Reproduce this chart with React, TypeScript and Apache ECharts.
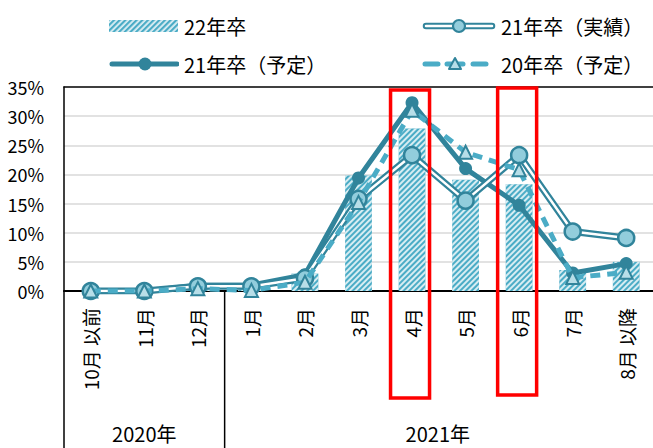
import React, { useEffect, useRef } from 'react';
import * as echarts from 'echarts';

const categories = ['10月 以前', '11月', '12月', '1月', '2月', '3月', '4月', '5月', '6月', '7月', '8月 以降'];
const grad22 = [0, 0, 0.3, 0.3, 3.0, 19.8, 27.9, 19.1, 18.3, 3.6, 5.0];
const actual21 = [0, 0, 0.8, 0.8, 2.2, 15.8, 23.3, 15.5, 23.3, 10.2, 9.1];
const plan21 = [0, 0, 1.0, 1.0, 2.8, 19.4, 32.3, 21.0, 14.7, 3.1, 4.7];
const plan20 = [0, 0, 0.4, 0.1, 1.5, 15.2, 31.0, 23.8, 20.8, 2.3, 3.2];
const yearLabels = ['2020年', '2021年'];
const yearSpans = [3, 8];
const highlighted = ['4月', '6月'];

const FONT = "'Noto Sans CJK JP', 'Noto Sans', sans-serif";
const DARK = '#31849b';
const MID = '#4bacc6';
const LIGHT = '#92cddc';
const PALE = '#b7dee8';

const svgIcon = (body: string, w: number, h: number) =>
  'image://data:image/svg+xml;charset=utf-8,' +
  encodeURIComponent(`<svg xmlns="http://www.w3.org/2000/svg" width="${w}" height="${h}" viewBox="0 0 ${w} ${h}">${body}</svg>`);

const iconBar = svgIcon(
  `<defs><pattern id="p" width="4" height="4" patternUnits="userSpaceOnUse" patternTransform="rotate(45)"><rect width="4" height="4" fill="#dff0f5"/><rect width="2.2" height="4" fill="${MID}"/></pattern></defs><rect x="0" y="2" width="69" height="12" fill="url(#p)"/>`,
  70, 16
);
const iconPlan21 = svgIcon(
  `<line x1="3" y1="8" x2="68" y2="8" stroke="${DARK}" stroke-width="5" stroke-linecap="round"/><circle cx="36" cy="8" r="6.5" fill="${DARK}"/>`,
  70, 16
);
const iconActual21 = svgIcon(
  `<line x1="4" y1="8" x2="70" y2="8" stroke="${DARK}" stroke-width="6.5" stroke-linecap="round"/><line x1="4" y1="8" x2="70" y2="8" stroke="#fff" stroke-width="2.5" stroke-linecap="round"/><circle cx="37" cy="8" r="6" fill="${LIGHT}" stroke="${DARK}" stroke-width="2.2"/>`,
  74, 16
);
const iconPlan20 = svgIcon(
  `<line x1="3" y1="8" x2="16" y2="8" stroke="${MID}" stroke-width="5" stroke-linecap="round"/><line x1="25" y1="8" x2="41" y2="8" stroke="${MID}" stroke-width="5" stroke-linecap="round"/><line x1="51" y1="8" x2="64" y2="8" stroke="${MID}" stroke-width="5" stroke-linecap="round"/><polygon points="33,2 39,13 27,13" fill="${PALE}" stroke="${DARK}" stroke-width="2" stroke-linejoin="round"/>`,
  74, 16
);

export default function App() {
  const ref = useRef<HTMLDivElement>(null);
  useEffect(() => {
    document.body.style.margin = '0';
    const chart = echarts.init(ref.current!, null, { renderer: 'svg' });
    const legendText = { fontFamily: FONT, fontSize: 20, color: '#000', lineHeight: 20 };
    chart.setOption({
      animation: false,
      textStyle: { fontFamily: FONT },
      grid: { left: 64, top: 87, width: 594, height: 204, containLabel: false },
      legend: [
        {
          orient: 'vertical', left: 104, top: 11, itemWidth: 70, itemHeight: 16, itemGap: 18,
          selectedMode: false, textStyle: legendText,
          data: [
            { name: '22年卒', icon: iconBar },
            { name: '21年卒（予定）', icon: iconPlan21 },
          ],
        },
        {
          orient: 'vertical', left: 417, top: 11, itemWidth: 74, itemHeight: 16, itemGap: 18,
          selectedMode: false, textStyle: legendText,
          data: [
            { name: '21年卒（実績）', icon: iconActual21 },
            { name: '20年卒（予定）', icon: iconPlan20 },
          ],
        },
      ],
      xAxis: [
        {
          type: 'category', data: categories, position: 'bottom',
          axisLine: { show: true, lineStyle: { color: '#000', width: 2 } },
          axisTick: { show: false },
          axisLabel: { interval: 0, rotate: 90, margin: 17, fontSize: 19, color: '#000', fontFamily: FONT },
        },
        {
          type: 'category', data: categories, position: 'top',
          axisLine: { show: true, lineStyle: { color: '#000', width: 1.5 } },
          axisTick: { show: false }, axisLabel: { show: false },
        },
      ],
      yAxis: {
        type: 'value', min: 0, max: 35, interval: 5,
        axisLine: { show: true, lineStyle: { color: '#000', width: 1.5 } },
        axisTick: { show: false },
        axisLabel: { formatter: '{value}%', fontSize: 18, color: '#000', margin: 20, fontFamily: FONT },
        splitLine: { show: true, showMinLine: false, showMaxLine: false, lineStyle: { color: '#d9d9d9', width: 1.5 } },
      },
      series: [
        {
          type: 'bar', name: '22年卒', data: grad22, barWidth: '50%', z: 2,
          itemStyle: {
            color: MID,
            decal: { symbol: 'rect', symbolSize: 1, dashArrayX: [1, 0], dashArrayY: [2, 2], rotation: -Math.PI / 4, color: 'rgba(255,255,255,0.78)' },
          },
        },
        {
          type: 'line', name: '21年卒（予定）', data: plan21, symbol: 'circle', symbolSize: 13, z: 3,
          lineStyle: { color: DARK, width: 5 }, itemStyle: { color: DARK },
        },
        {
          type: 'line', name: '実績外', data: actual21, symbol: 'none', z: 4,
          lineStyle: { color: DARK, width: 7 },
        },
        {
          type: 'line', name: '21年卒（実績）', data: actual21, symbol: 'circle', symbolSize: 16, z: 5,
          lineStyle: { color: '#fff', width: 2.5 },
          itemStyle: { color: LIGHT, borderColor: DARK, borderWidth: 2.5 },
        },
        {
          type: 'line', name: '20年卒（予定）', data: plan20, symbol: 'triangle', symbolSize: 13, z: 6,
          lineStyle: { color: MID, width: 5, type: [10, 7] },
          itemStyle: { color: PALE, borderColor: DARK, borderWidth: 2 },
        },
      ],
    });

    const xs = categories.map((c) => chart.convertToPixel({ xAxisIndex: 0 }, c) as number);
    const band = xs[1] - xs[0];
    const y0 = chart.convertToPixel({ yAxisIndex: 0 }, 0) as number;
    const yTop = chart.convertToPixel({ yAxisIndex: 0 }, 35) as number;
    const H = 448;
    const graphics: any[] = [];
    let idx = 0;
    const bounds: number[] = [xs[0] - band / 2];
    yearSpans.forEach((span) => {
      idx += span;
      bounds.push(xs[idx - 1] + band / 2);
    });
    bounds.slice(0, bounds.length - 1).forEach((bx) => {
      graphics.push({ type: 'line', shape: { x1: bx, y1: y0, x2: bx, y2: H }, style: { stroke: '#000', lineWidth: 1.5 }, z: 50 });
    });
    yearLabels.forEach((lab, i) => {
      const cx = (bounds[i] + Math.min(bounds[i + 1], 653 + band / 2)) / 2;
      graphics.push({
        type: 'text', x: cx - (i === 1 ? 1 : 0), y: 433,
        style: { text: lab, fontSize: 20, fontFamily: FONT, fill: '#000', align: 'center', verticalAlign: 'middle' }, z: 50,
      });
    });
    highlighted.forEach((c, i) => {
      const cx = xs[categories.indexOf(c)] - 2;
      graphics.push({
        type: 'rect', shape: { x: cx - 19.5, y: yTop + 3 - i * 2, width: 39, height: 308 - i },
        style: { fill: 'none', stroke: '#ff0000', lineWidth: 3.5 }, z: 100,
      });
    });
    chart.setOption({ graphic: graphics });
    return () => chart.dispose();
  }, []);
  return <div ref={ref} style={{ width: 653, height: 448 }} />;
}
